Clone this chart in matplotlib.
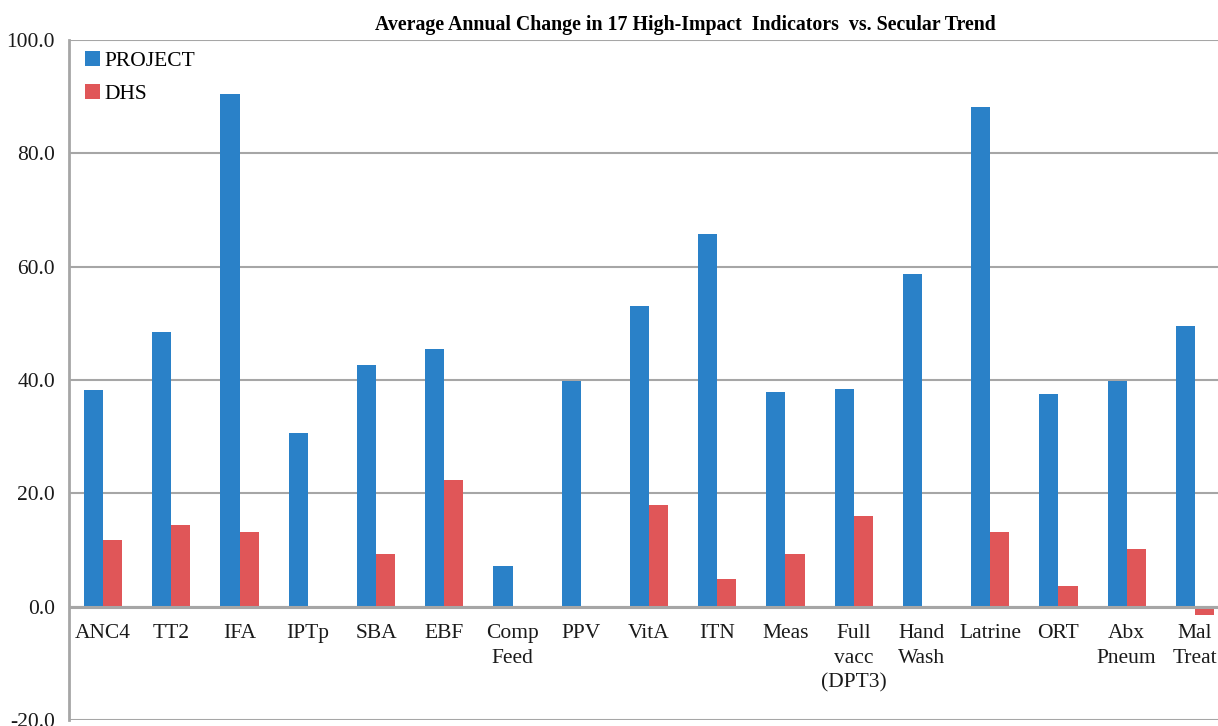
import matplotlib.pyplot as plt
import numpy as np

plt.rcParams['font.family'] = ['Liberation Serif', 'DejaVu Serif']

# Dane
categories = ["ANC4", "TT2", "IFA", "IPTp", "SBA", "EBF", "Comp\nFeed", "PPV", "VitA",
              "ITN", "Meas", "Full\nvacc\n(DPT3)", "Hand\nWash", "Latrine", "ORT",
              "Abx\nPneum", "Mal\nTreat"]
project = [38.3, 48.5, 90.5, 30.7, 42.7, 45.4, 7.1, 39.9, 53.0,
           65.8, 37.9, 38.5, 58.7, 88.2, 37.6, 39.9, 49.6]
dhs = [11.8, 14.5, 13.2, 0.0, 9.3, 22.3, 0.0, 0.0, 17.9,
       4.8, 9.3, 16.0, 0.0, 13.2, 3.7, 10.1, -1.4]
y_ticks = [-20, 0, 20, 40, 60, 80, 100]

blue = "#2A81C8"
red = "#E05658"
grid_color = "#A6A6A6"

fig = plt.figure(figsize=(12.18, 7.26), dpi=100)
ax = fig.add_axes([69 / 1218, 1 - 720 / 726, (1229 - 69) / 1218, 680 / 726])

x = np.arange(len(categories))
w = 0.28
ax.bar(x - w / 2, project, w, color=blue, label="PROJECT", zorder=3)
ax.bar(x + w / 2, dhs, w, color=red, label="DHS", zorder=3)

ax.set_xlim(-0.5, len(categories) - 0.5)
ax.set_ylim(-20, 100)
ax.set_yticks(y_ticks)
ax.set_yticklabels([f"{v:.1f}" for v in y_ticks], fontsize=15.5)
ax.yaxis.grid(True, color=grid_color, linewidth=1.5, zorder=0)
ax.axhline(0, color=grid_color, linewidth=2.2, zorder=4)

# etykiety kategorii pod linią zera
ax.set_xticks([])
for i, lab in enumerate(categories):
    ax.text(i, -3.1, lab, ha="center", va="top", fontsize=15.5,
            linespacing=1.4, color="#1a1a1a")

for s in ["top", "right", "bottom"]:
    ax.spines[s].set_visible(False)
ax.spines["left"].set_color(grid_color)
ax.spines["left"].set_linewidth(2)
ax.tick_params(axis="y", length=0, pad=10, colors="#1a1a1a")

ax.legend(loc="upper left", bbox_to_anchor=(-0.003, 1.013), frameon=False, fontsize=15.5,
          handlelength=0.7, handleheight=0.7, handletextpad=0.2, labelspacing=0.6)

fig.text(685 / 1218, 1 - 25 / 726, "Average Annual Change in 17 High-Impact  Indicators  vs. Secular Trend",
         ha="center", va="center", fontsize=14.3, fontweight="bold")

fig.savefig("out.png", dpi=100)
